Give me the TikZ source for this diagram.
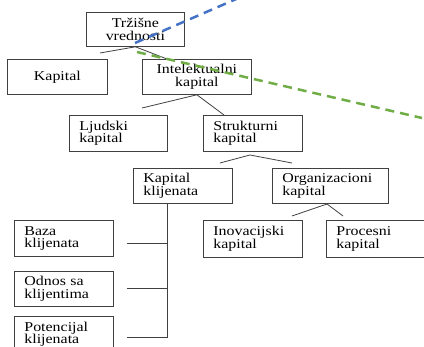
\documentclass[tikz,border=0pt]{standalone}
\usepackage{fontspec}
\setmainfont{Liberation Serif}[FakeStretch=1.18]
\usetikzlibrary{calc}
\definecolor{dashblue}{HTML}{4472C4}
\definecolor{dashgreen}{HTML}{70AD47}

\begin{document}
\begin{tikzpicture}[
    x=1pt, y=-1pt,
    box/.style={draw=black!75, line width=0.8pt, anchor=north west,
      minimum height=35pt, inner xsep=10pt, inner ysep=0pt,
      text width=#1, align=left, font=\fontsize{13.5}{12.5}\selectfont},
    box/.default=79pt,
    link/.style={draw=black!75, line width=0.8pt},
    ]
    \useasboundingbox (0,0) rectangle (424,347);
    \clip (0,0) rectangle (424,347);

    % top levels
    \node[box=78pt, align=center, minimum height=34pt] (trz) at (86,12) {Tržišne\\vrednosti};
    \node[box=80pt, align=center] (kap) at (7,59) {Kapital};
    \node[box=89pt, align=center] (intel) at (142,59) {Intelektualni\\kapital};
    \node[box=78pt, minimum height=36pt] (ljud) at (69,115) {Ljudski\\kapital};
    \node[box, minimum height=36pt] (struk) at (203,115) {Strukturni\\kapital};
    \node[box] (klij) at (133,168) {Kapital\\klijenata};
    \node[box=96pt] (org) at (272,168) {Organizacioni\\kapital};

    % bottom row
    \node[box, minimum height=36pt] (baza) at (14,220) {Baza\\klijenata};
    \node[box] (odnos) at (14,271) {Odnos sa\\klijentima};
    \node[box, minimum height=36pt] (pot) at (14,316) {Potencijal\\klijenata};
    \node[box, minimum height=37pt] (inov) at (203,220) {Inovacijski\\kapital};
    \node[box, minimum height=37pt] (proc) at (326,220) {Procesni\\kapital};

    % free ends of the short links
    \coordinate (kapEnd) at (100,53);
    \coordinate (intEnd) at (167,59);
    \coordinate (ljudEnd) at (142,108);
    \coordinate (strukEnd) at (224,115);
    \coordinate (strukApex) at (250,155);
    \coordinate (klijEnd) at (220,163);
    \coordinate (orgEnd) at (292,163);
    \coordinate (orgApex) at (327,204);
    \coordinate (inovEnd) at (292,216);
    \coordinate (procEnd) at (343,216);

    \draw[link] (kapEnd) -- (trz.south) -- (intEnd);
    \draw[link] (ljudEnd) -- (intel.south) -- (strukEnd);
    \draw[link] (klijEnd) -- (strukApex) -- (orgEnd);
    \draw[link] (inovEnd) -- (orgApex) -- (procEnd);

    % client capital bracket
    \coordinate (trunk) at ($(klij.south west)+(34,0)$);
    \draw[link] (trunk) |- ([xshift=13pt,yshift=-3pt]pot.east);
    \draw[link] ([xshift=13pt,yshift=-5pt]baza.east) coordinate (b1) -- (b1 -| trunk);
    \draw[link] ([xshift=13pt]odnos.east) coordinate (b2) -- (b2 -| trunk);

    % overlay
    \draw[dashblue, line width=2.5pt, dash pattern=on 9pt off 6pt] (135,43) -- (257,-10);
    \draw[dashgreen, line width=2.5pt, dash pattern=on 9pt off 6pt] (137,52) -- (422,118);
\end{tikzpicture}
\end{document}
